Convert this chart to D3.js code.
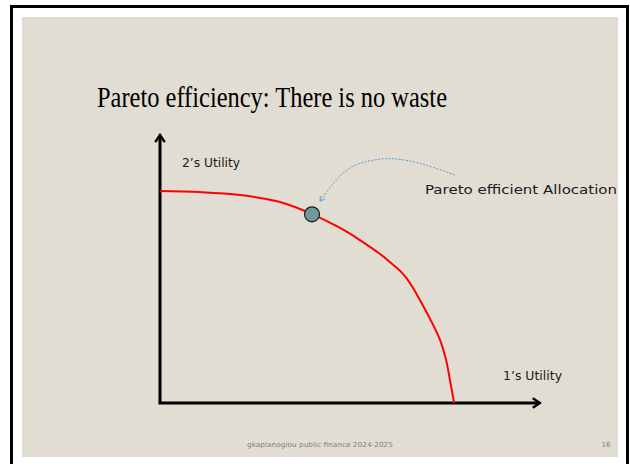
<!DOCTYPE html>
<html>
<head>
<meta charset="utf-8">
<script src="https://cdn.jsdelivr.net/npm/d3@7"></script>
<style>
  html, body { margin: 0; padding: 0; background: #ffffff; }
  svg { display: block; }
</style>
</head>
<body>
<div id="pareto-chart"></div>
<script>
// frontier data (1's utility, 2's utility)
const frontierX = [0, 10.5, 21.1, 31.6, 40, 47.4, 52.6, 57.9, 60.5, 63.2, 65.0, 66.6, 68.4, 71.1, 73.7, 75.3, 76.3, 77.4];
const frontierY = [79.1, 78.7, 77.6, 75.0, 70.5, 65.3, 60.8, 55.6, 52.6, 49.3, 46.3, 42.9, 38.4, 31.3, 23.5, 16.0, 8.6, 0];

// the efficient allocation marked on the frontier
const pointX = [40];
const pointY = [70.4];

// dashed annotation arrow, from label to point
const arrowX = [77.6, 65.8, 57.9, 50.0, 45.3, 42.1];
const arrowY = [85.1, 90.3, 91.0, 87.7, 81.3, 75.2];

const titleText = 'Pareto efficiency: There is no waste';
const xLabel = '1\u2019s Utility';
const yLabel = '2\u2019s Utility';
const pointLabel = 'Pareto efficient Allocation';
const footerText = 'gkaplanoglou public finance 2024-2025';
const pageNum = '16';

(function () {
  const W = 630, H = 464;
  const colors = {
    bg: '#e2ddd2',
    frame: '#000000',
    curve: '#ff0000',
    point: '#6f9a97',
    arrow: '#5b9bd5',
    text: '#1a1a1a',
    footer: '#7f7f7f'
  };

  const svg = d3.select('#pareto-chart').append('svg')
    .attr('width', W)
    .attr('height', H);

  // slide frame and background
  svg.append('path')
    .attr('d', 'M11.5,470 L11.5,6.5 L627.5,6.5 L627.5,470')
    .attr('fill', 'none')
    .attr('stroke', colors.frame)
    .attr('stroke-width', 3);
  svg.append('rect')
    .attr('x', 22).attr('y', 17)
    .attr('width', 596).attr('height', 440)
    .attr('fill', colors.bg);

  svg.append('text')
    .attr('x', 97).attr('y', 107)
    .style('font-family', '"Liberation Serif", "Times New Roman", serif')
    .style('font-size', '30px')
    .attr('textLength', 350).attr('lengthAdjust', 'spacingAndGlyphs')
    .attr('fill', '#000')
    .text(titleText);

  // scales: data units -> pixels
  const x = d3.scaleLinear().domain([0, 100]).range([160, 540]);
  const y = d3.scaleLinear().domain([0, 100]).range([403, 135]);

  // axes with open arrow heads
  const defs = svg.append('defs');
  defs.append('marker')
    .attr('id', 'axis-arrow')
    .attr('viewBox', '0 0 10 10')
    .attr('refX', 8).attr('refY', 5)
    .attr('markerWidth', 4).attr('markerHeight', 4)
    .attr('markerUnits', 'strokeWidth')
    .attr('orient', 'auto')
    .append('path')
    .attr('d', 'M2,1 L8,5 L2,9')
    .attr('fill', 'none')
    .attr('stroke', colors.frame)
    .attr('stroke-width', 2);
  defs.append('marker')
    .attr('id', 'note-arrow')
    .attr('viewBox', '0 0 10 10')
    .attr('refX', 8).attr('refY', 5)
    .attr('markerWidth', 7).attr('markerHeight', 7)
    .attr('markerUnits', 'userSpaceOnUse')
    .attr('orient', 'auto')
    .append('path')
    .attr('d', 'M1,1 L8,5 L1,9')
    .attr('fill', 'none')
    .attr('stroke', colors.arrow)
    .attr('stroke-width', 1.2);

  svg.append('line')
    .attr('x1', x(0)).attr('y1', y(0))
    .attr('x2', x(0)).attr('y2', y(100))
    .attr('stroke', colors.frame).attr('stroke-width', 3)
    .attr('marker-end', 'url(#axis-arrow)');
  svg.append('line')
    .attr('x1', x(0) - 1.5).attr('y1', y(0))
    .attr('x2', x(100)).attr('y2', y(0))
    .attr('stroke', colors.frame).attr('stroke-width', 3)
    .attr('marker-end', 'url(#axis-arrow)');

  const labelFont = '"DejaVu Sans", sans-serif';
  svg.append('text')
    .attr('x', 182).attr('y', 167)
    .style('font-family', labelFont).style('font-size', '12px')
    .attr('textLength', 58).attr('lengthAdjust', 'spacingAndGlyphs')
    .attr('fill', colors.text)
    .text(yLabel);
  svg.append('text')
    .attr('x', 503).attr('y', 380)
    .style('font-family', labelFont).style('font-size', '12px')
    .attr('textLength', 59).attr('lengthAdjust', 'spacingAndGlyphs')
    .attr('fill', colors.text)
    .text(xLabel);
  svg.append('text')
    .attr('x', 425).attr('y', 194)
    .style('font-family', labelFont).style('font-size', '12px')
    .attr('textLength', 192).attr('lengthAdjust', 'spacingAndGlyphs')
    .attr('fill', colors.text)
    .text(pointLabel);

  // frontier curve
  const frontier = frontierX.map((v, i) => ({ u1: v, u2: frontierY[i] }));
  const line = d3.line()
    .x(d => x(d.u1))
    .y(d => y(d.u2))
    .curve(d3.curveCatmullRom.alpha(0.5));
  svg.append('path')
    .datum(frontier)
    .attr('d', line)
    .attr('fill', 'none')
    .attr('stroke', colors.curve)
    .attr('stroke-width', 2);

  // dashed annotation arrow
  const arrowPts = arrowX.map((v, i) => ({ u1: v, u2: arrowY[i] }));
  svg.append('path')
    .datum(arrowPts)
    .attr('d', d3.line().x(d => x(d.u1)).y(d => y(d.u2)).curve(d3.curveCatmullRom))
    .attr('fill', 'none')
    .attr('stroke', colors.arrow)
    .attr('stroke-width', 1)
    .attr('stroke-dasharray', '2,1.5')
    .attr('marker-end', 'url(#note-arrow)');

  // efficient point
  svg.selectAll('circle.alloc')
    .data(pointX.map((v, i) => ({ u1: v, u2: pointY[i] })))
    .enter()
    .append('circle')
    .attr('class', 'alloc')
    .attr('cx', d => x(d.u1))
    .attr('cy', d => y(d.u2))
    .attr('r', 7.5)
    .attr('fill', colors.point)
    .attr('stroke', '#1a1a1a')
    .attr('stroke-width', 1.2);

  // footer
  svg.append('text')
    .attr('x', 320).attr('y', 447)
    .attr('text-anchor', 'middle')
    .style('font-family', labelFont).style('font-size', '7px')
    .attr('textLength', 146).attr('lengthAdjust', 'spacingAndGlyphs')
    .attr('fill', colors.footer)
    .text(footerText);
  svg.append('text')
    .attr('x', 606).attr('y', 447)
    .attr('text-anchor', 'middle')
    .style('font-family', labelFont).style('font-size', '7px')
    .attr('fill', colors.footer)
    .text(pageNum);
})();
</script>
</body>
</html>
